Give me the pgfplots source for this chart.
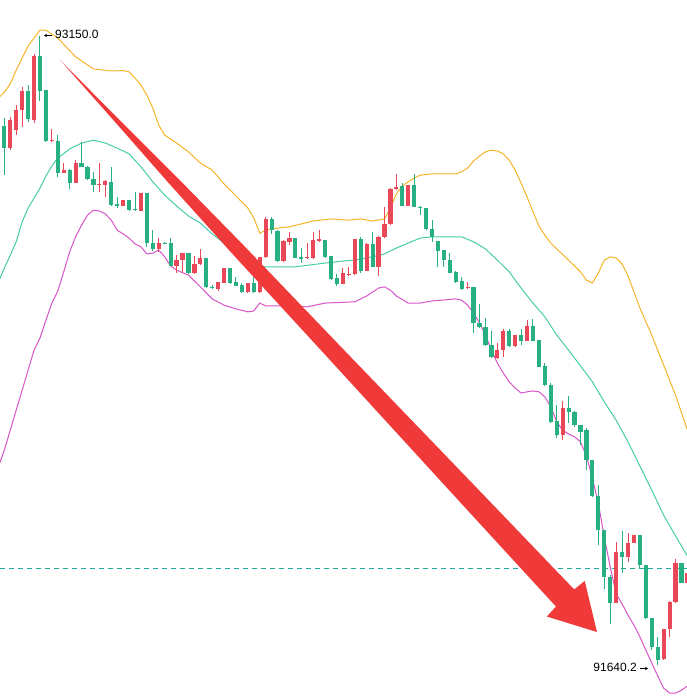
\documentclass[border=0pt]{standalone}
\usepackage{fontspec}
\setmainfont{Liberation Sans}
\usepackage{pgfplots}
\usepackage{pgfplotstable}
\pgfplotsset{compat=1.18}
\usetikzlibrary{arrows.meta}
\definecolor{upcol}{RGB}{232,72,88}
\definecolor{dncol}{RGB}{40,175,130}
\definecolor{bbup}{RGB}{245,180,40}
\definecolor{bbmid}{RGB}{70,205,170}
\definecolor{bblow}{RGB}{215,85,200}
\definecolor{lastline}{RGB}{30,170,150}
\definecolor{bigarrow}{RGB}{240,58,58}

% rising candles (close above open)
\pgfplotstableread{
i o h l c
0 92881 92948 92860 92936
2 92881 92956 92876 92948
3 92924 92984 92912 92972
4 92972 93028 92932 93018
6 92948 93107 92941 93102
9 92897 92927 92895 92901
11 92822 92845 92821 92829
13 92798 92852 92797 92845
17 92792 92845 92776 92795
18 92792 92804 92764 92803
21 92743 92757 92742 92756
24 92731 92773 92730 92772
27 92638 92666 92632 92653
30 92599 92625 92582 92612
31 92612 92629 92581 92628
33 92581 92622 92579 92603
34 92603 92638 92600 92616
37 92543 92560 92539 92559
38 92558 92593 92556 92592
42 92536 92557 92534 92556
44 92536 92620 92532 92619
45 92619 92716 92618 92710
48 92611 92660 92608 92659
49 92656 92680 92648 92665
52 92616 92653 92615 92619
53 92616 92680 92615 92660
54 92659 92684 92656 92662
58 92555 92592 92554 92581
59 92576 92595 92575 92579
60 92578 92663 92576 92662
62 92586 92652 92585 92651
64 92596 92669 92574 92668
65 92667 92740 92666 92699
66 92699 92784 92696 92783
67 92782 92819 92781 92788
69 92743 92793 92742 92792
79 92544 92560 92542 92548
84 92377 92414 92374 92396
85 92396 92447 92380 92443
87 92406 92433 92404 92432
89 92419 92468 92418 92454
95 92192 92275 92180 92256
104 91790 91936 91788 91912
106 91900 91956 91888 91934
107 91934 91953 91932 91952
112 91654 91727 91652 91726
113 91726 91793 91708 91792
114 91792 91894 91790 91885
116 91838 91861 91837 91860
}\upcandles

% falling candles (close below open)
\pgfplotstableread{
i o h l c
1 92934 92953 92816 92881
5 93018 93032 92944 92951
7 93102 93150 92994 93018
8 93020 93021 92896 92898
10 92897 92912 92812 92822
12 92829 92830 92783 92797
14 92845 92896 92835 92836
15 92836 92837 92804 92807
16 92807 92824 92776 92792
19 92800 92836 92742 92744
20 92747 92764 92737 92743
22 92756 92757 92731 92732
23 92734 92776 92731 92732
25 92772 92773 92643 92653
26 92654 92684 92635 92638
28 92654 92655 92650 92651
29 92652 92665 92597 92599
32 92628 92629 92579 92581
35 92616 92617 92545 92547
36 92548 92552 92542 92545
39 92592 92593 92555 92556
40 92560 92572 92549 92550
41 92552 92556 92534 92536
43 92556 92572 92534 92536
46 92710 92715 92675 92684
47 92683 92684 92608 92611
50 92664 92665 92616 92618
51 92620 92642 92606 92615
55 92660 92661 92616 92619
56 92621 92622 92564 92566
57 92568 92578 92551 92555
61 92662 92667 92581 92586
63 92651 92680 92595 92596
68 92790 92796 92742 92743
70 92792 92819 92739 92740
71 92740 92741 92720 92738
72 92736 92737 92684 92687
73 92687 92708 92656 92667
74 92658 92659 92595 92635
75 92636 92637 92596 92612
76 92612 92628 92580 92582
77 92584 92585 92558 92560
78 92563 92572 92540 92542
80 92547 92548 92436 92460
81 92460 92507 92449 92451
82 92451 92472 92406 92408
83 92408 92443 92377 92379
86 92443 92447 92403 92406
88 92432 92447 92408 92419
90 92454 92470 92417 92419
91 92420 92421 92355 92356
92 92359 92366 92310 92312
93 92312 92316 92221 92224
94 92226 92264 92184 92192
96 92256 92286 92221 92248
97 92248 92249 92212 92216
98 92216 92217 92168 92200
99 92204 92208 92108 92132
100 92132 92133 92044 92046
101 92046 92072 91928 91964
102 91964 91965 91822 91852
103 91852 91857 91739 91790
105 91912 91963 91862 91900
108 91952 91953 91870 91880
109 91880 91881 91750 91752
110 91752 91753 91676 91683
111 91683 91708 91640.2 91652
115 91885 91886 91836 91838
}\dncandles

\begin{document}
\begin{tikzpicture}
\begin{axis}[
  at={(0,0)}, anchor=south west,
  scale only axis, width=687bp, height=699bp,
  xmin=0.27, xmax=115.93,
  ymin=91558.8, ymax=93236.4,
  hide axis,
  error bars/error mark=none]

% Bollinger bands
\addplot[bbup, line width=1bp] coordinates {
(0,93001) (1,93015) (2,93035) (3,93068) (5,93126) (7,93164) (8,93164) (10,93145)
(13,93100) (16,93071) (19,93066) (21,93067) (22,93064) (23,93049) (24,93032)
(25,93008) (26,92977) (27,92936) (28,92912) (30,92893) (32,92872) (34,92845)
(36,92828) (38,92795) (40,92766) (42,92737) (43,92713) (44,92677) (45,92684)
(47,92689) (49,92692) (51,92699) (53,92706) (56,92711) (59,92708) (61,92711)
(63,92706) (65,92711) (66,92737) (67,92771) (68,92790) (69,92800) (70,92809)
(71,92816) (73,92819) (77,92819) (78,92824) (79,92833) (80,92850) (81,92862)
(82,92872) (83,92876) (84,92874) (85,92867) (86,92852) (87,92828) (88,92797)
(89,92764) (90,92728) (91,92694) (92,92672) (93,92653) (94,92639) (96,92612)
(98,92584) (99,92564) (100,92557) (101,92581) (102,92612) (103,92620) (104,92617)
(105,92603) (106,92574) (107,92536) (108,92497) (110,92432) (112,92360)
(114,92288) (116,92204)};

\addplot[bbmid, line width=1bp] coordinates {
(0,92560) (1,92593) (2,92624) (3,92656) (4,92704) (5,92737) (6,92761) (7,92785)
(8,92814) (9,92838) (10,92857) (12,92879) (14,92893) (16,92900) (18,92893)
(20,92881) (22,92867) (24,92836) (26,92800) (28,92768) (30,92742) (32,92718)
(34,92701) (36,92675) (38,92653) (40,92634) (42,92615) (44,92598) (45,92596)
(50,92596) (55,92605) (58,92610) (60,92612) (63,92620) (65,92627) (67,92641)
(69,92653) (71,92665) (73,92668) (78,92668) (80,92656) (82,92639) (84,92612)
(86,92584) (88,92545) (90,92509) (92,92476) (94,92432) (96,92396) (98,92358)
(100,92320) (102,92272) (104,92228) (106,92176) (108,92118) (110,92060)
(112,92000) (114,91950) (116,91902)};

\addplot[bblow, line width=1bp] coordinates {
(0,92116) (1,92156) (2,92204) (3,92252) (4,92300) (5,92348) (6,92396) (7,92425)
(8,92468) (9,92509) (10,92538) (11,92584) (12,92632) (13,92668) (14,92696)
(15,92720) (16,92732) (17,92730) (18,92723) (19,92708) (20,92684) (21,92675)
(22,92665) (23,92651) (24,92644) (25,92627) (26,92629) (27,92636) (28,92620)
(29,92598) (30,92588) (32,92576) (34,92548) (36,92519) (38,92504) (40,92495)
(42,92488) (43,92490) (44,92509) (45,92502) (48,92502) (52,92500) (55,92509)
(60,92512) (62,92526) (64,92545) (65,92548) (66,92540) (67,92526) (69,92509)
(71,92509) (73,92514) (77,92519) (78,92516) (79,92504) (80,92485) (81,92461)
(82,92432) (83,92396) (84,92365) (85,92341) (86,92320) (87,92305) (88,92293)
(89,92296) (90,92298) (91,92296) (92,92284) (93,92260) (94,92224) (95,92204)
(96,92195) (97,92188) (98,92176) (99,92142) (100,92089) (101,92029) (102,91948)
(103,91876) (104,91811) (105,91787) (106,91760) (107,91736) (108,91708)
(109,91676) (110,91645) (111,91614) (112,91585) (113,91573) (114,91573)
(115,91580) (116,91590)};

% last price line
\addplot[lastline, line width=1bp, dash pattern=on 5bp off 4bp]
  coordinates {(0.27,91871) (115.93,91871)};

% wicks
\addplot[draw=none, mark=none, error bars/.cd, y dir=minus, y explicit,
  error bar style={line width=1bp, draw=upcol}]
  table[x=i, y=h, y error minus expr=\thisrow{h}-\thisrow{l}] {\upcandles};
\addplot[draw=none, mark=none, error bars/.cd, y dir=minus, y explicit,
  error bar style={line width=1bp, draw=dncol}]
  table[x=i, y=h, y error minus expr=\thisrow{h}-\thisrow{l}] {\dncandles};

% bodies
\addplot[draw=none, mark=none, error bars/.cd, y dir=minus, y explicit,
  error bar style={line width=4.2bp, draw=upcol}]
  table[x=i, y=c, y error minus expr={max(\thisrow{c}-\thisrow{o},2.4)}] {\upcandles};
\addplot[draw=none, mark=none, error bars/.cd, y dir=minus, y explicit,
  error bar style={line width=4.2bp, draw=dncol}]
  table[x=i, y=o, y error minus expr={max(\thisrow{o}-\thisrow{c},2.4)}] {\dncandles};
\end{axis}

% annotations, in picture units (1bp = 1px of the reference, origin bottom left)
\begin{scope}[x=1bp, y=1bp]
\fill[bigarrow] (60,639) -- (116.35,582.19) -- (176.58,522.13) -- (243.04,454.25)
  -- (339.96,353.22) -- (478.66,209.13) -- (574.2,109.56) -- (584.72,118.06)
  -- (597,67) -- (546.82,82.48) -- (555.98,92.44) -- (462.62,194.07)
  -- (327.56,341.58) -- (232.84,444.67) -- (169.28,515.29) -- (113.15,579.17) -- cycle;

\draw[-{Stealth[length=3bp,width=3.5bp]}, line width=0.7bp] (52,663.5) -- (44,663.5);
\node[anchor=west, inner sep=0pt, font=\fontsize{12bp}{14bp}\selectfont] at (55,664.5) {93150.0};
\node[anchor=east, inner sep=0pt, font=\fontsize{12bp}{14bp}\selectfont] at (637,31.5) {91640.2};
\draw[-{Stealth[length=3bp,width=3.5bp]}, line width=0.7bp] (640,30.5) -- (648,30.5);
\end{scope}
\pgfresetboundingbox
\useasboundingbox (0,0) rectangle (687bp,699bp);
\end{tikzpicture}
\end{document}
